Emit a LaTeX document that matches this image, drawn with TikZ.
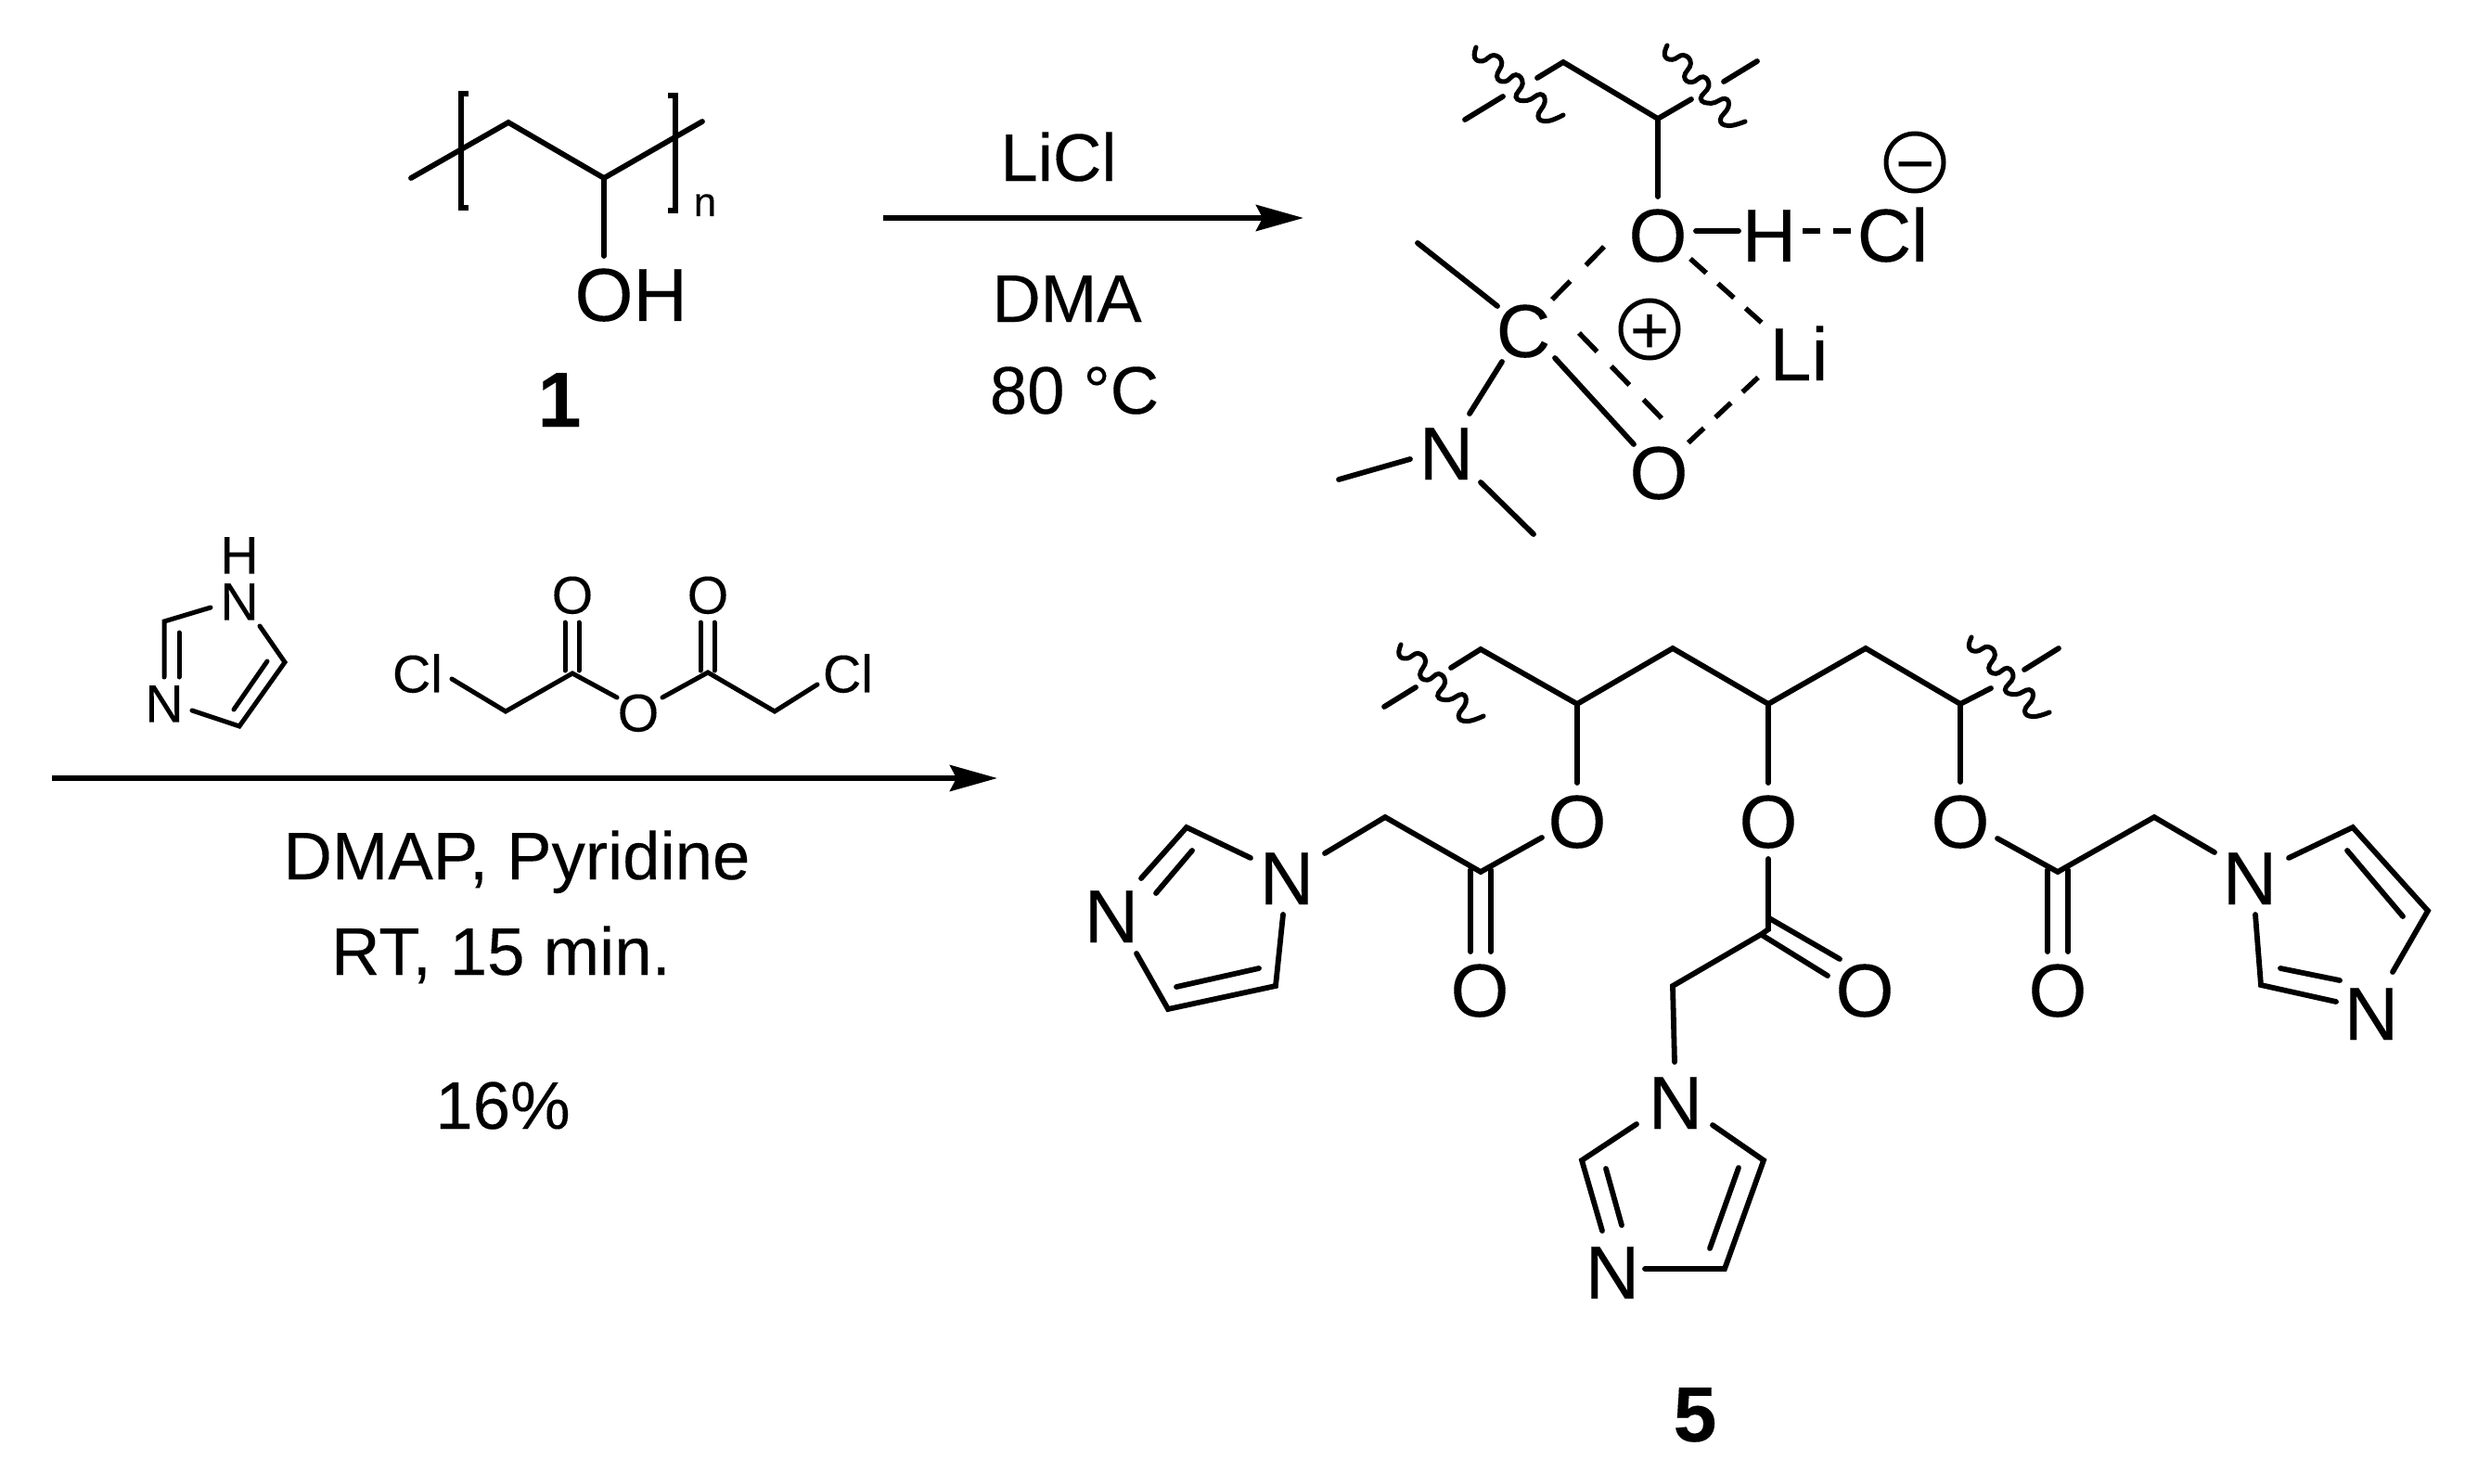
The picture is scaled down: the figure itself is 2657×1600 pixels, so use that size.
\documentclass[tikz,border=0pt]{standalone}
\usepackage{fontspec}
\setmainfont{Liberation Sans}[FakeBold=0.12]
\usetikzlibrary{arrows.meta}
\newcommand\atx[1]{\makebox[0pt]{\raisebox{-0.358em}[0pt][0pt]{#1}}}
\newcommand\atxl[1]{\makebox[0pt][l]{\hspace{-0.389em}\raisebox{-0.358em}[0pt][0pt]{#1}}}
\newcommand\wavyline[4]{%
  \begin{scope}[shift={(#1,#2)},
      x={({(#3-#1)*0.5pt},{-(#4-#2)*0.5pt})},
      y={({-(#4-#2)*0.5pt},{-(#3-#1)*0.5pt})}]
    \draw[wave] plot[smooth,tension=0.8] coordinates {(0,0) (.048,.081) (.124,.061) (.171,-.042) (.27,-.033) (.312,.093) (.397,.085) (.438,-.025) (.534,0) (.562,.134) (.661,.097) (.721,-.021) (.797,.012) (.826,.147) (.918,.134) (1,0)};
  \end{scope}}
\tikzset{
  bond/.style={line width=2.9pt,line cap=round,line join=miter,black},
  thinbond/.style={line width=2.5pt,line cap=round,line join=miter,black},
  dbond/.style={line width=2.7pt,line cap=butt,black},
  wave/.style={line width=2.5pt,line cap=round,black},
  brk/.style={line width=3pt,line cap=butt,line join=miter,black},
  rxn/.style={line width=3pt,line cap=butt,black,-{Stealth[length=25.5pt,width=14pt,inset=3.5pt]}},
  atom/.style={circle,inner sep=0pt,outer sep=0pt,minimum size=1pt,font=\fontsize{40.5}{40.5}\selectfont},
  smallatom/.style={circle,inner sep=0pt,outer sep=0pt,minimum size=1pt,font=\fontsize{28.6}{28.6}\selectfont},
  lab/.style={anchor=base,inner sep=0pt,outer sep=0pt,font=\fontsize{36.3}{36.3}\selectfont},
  cmpd/.style={anchor=base,inner sep=0pt,outer sep=0pt,font=\fontsize{42}{42}\selectfont\bfseries},
  charge/.style={circle,draw,line width=2.5pt,inner sep=0pt,minimum size=31pt,font=\fontsize{36}{36}\selectfont},
}
\begin{document}
\begin{tikzpicture}[x=0.5pt,y=-0.5pt]
\useasboundingbox (0,0) rectangle (2657,1600);
\fill[white] (0,0) rectangle (2657,1600);

%% ---------- polymer 1
\coordinate (pa) at (443,192);
\coordinate (pb) at (548,132);
\coordinate (pc) at (651,192);
\coordinate (pd) at (757,131);
\node[atom] (poh) at (651,317) {\atxl{OH}};
\draw[bond] (pa) -- (pb) -- (pc) -- (pd);
\draw[bond] (pc) -- ([shift={(0,-41)}]poh.center);
\draw[brk] (505,101) -| (497,224) -- (505,224);
\draw[brk] (720,103) -| (728,227) -- (720,227);
\node[anchor=base,inner sep=0pt,font=\fontsize{22}{22}\selectfont] (pn) at (760,233) {n};
\node[cmpd] (c1) at (603,460) {1};

%% ---------- reaction 1
\coordinate (a1s) at (952,235);
\coordinate (a1e) at (1405,235);
\draw[rxn] (a1s) -- (a1e);
\node[lab] (licl) at (1141,195) {LiCl};
\node[lab] (dma) at (1150,347) {DMA};
\node[lab] (temp) at (1158,446) {80 °C};

%% ---------- complex
\coordinate (zk) at (1685,67);
\coordinate (zch) at (1787,128);
\coordinate (zl) at (1657,84);
\coordinate (zr) at (1823,107);
\coordinate (zl1) at (1579,129);
\coordinate (zl2) at (1620,104);
\coordinate (zr1) at (1858,88);
\coordinate (zr2) at (1894,66);
\coordinate (zme) at (1528,262);
\coordinate (zm1) at (1443,517);
\coordinate (zm2) at (1653,576);
\node[atom] (zo) at (1787,253) {\atx{O}};
\node[atom] (zh) at (1907,253) {\atx{H}};
\node[atom] (zcl) at (2040,253) {\atx{Cl}};
\node[atom] (zli) at (1939,381) {\atx{Li}};
\node[atom] (zc) at (1642,356) {\atx{C}};
\node[atom] (zob) at (1788,509) {\atx{O}};
\node[atom] (zn) at (1559,488) {\atx{N}};
\node[charge] (zminus) at (2064,175) {\atx{−}};
\node[charge] (zplus) at (1778,355) {\atx{+}};
\draw[bond] (zl) -- (zk) -- (zch) -- (zr);
\draw[bond] (zl1) -- (zl2);
\draw[bond] (zr1) -- (zr2);
\wavyline{1591}{51}{1685}{124}
\wavyline{1797}{49}{1881}{131}
\draw[bond] (zch) -- ([shift={(0,-41)}]zo.center);
\draw[bond] ([shift={(41,-4)}]zo.center) -- ([shift={(-33,-4)}]zh.center);
\draw[dbond,dash pattern=on 9.5pt off 7pt] ([shift={(36,-4)}]zh.center) -- ([shift={(-45,-4)}]zcl.center);
\draw[dbond,dash pattern=on 14pt off 12pt] ([shift={(-58,13)}]zo.center) -- ([shift={(31,-33)}]zc.center);
\draw[dbond,dash pattern=on 11.5pt off 8.5pt] ([shift={(35,26)}]zo.center) -- ([shift={(-40,-33)}]zli.center);
\draw[dbond,dash pattern=on 11.5pt off 8.5pt] ([shift={(-44,26)}]zli.center) -- ([shift={(30,-30)}]zob.center);
\draw[bond] (zme) -- ([shift={(-28,-26)}]zc.center);
\draw[bond] ([shift={(-23,34)}]zc.center) -- ([shift={(25,-42)}]zn.center);
\draw[bond] ([shift={(34,30)}]zc.center) -- ([shift={(-27,-30)}]zob.center);
\draw[dbond,dash pattern=on 14pt off 11pt] ([shift={(60,3)}]zc.center) -- ([shift={(3,-58)}]zob.center);
\draw[bond] ([shift={(-39,7)}]zn.center) -- (zm1);
\draw[bond] ([shift={(37,32)}]zn.center) -- (zm2);

%% ---------- imidazole reagent
\node[smallatom] (ih) at (258,598) {\atx{H}};
\node[smallatom] (in1) at (258,648) {\atx{N}};
\node[smallatom] (in3) at (177,758) {\atx{N}};
\coordinate (ic2) at (177,670);
\coordinate (ic4) at (258,783);
\coordinate (ic5) at (307,714);
\coordinate (ii1) at (193,682);
\coordinate (ii2) at (193,730);
\coordinate (ij1) at (252,765);
\coordinate (ij2) at (288,713);
\draw[thinbond] ([shift={(-31,7)}]in1.center) -- (ic2) -- ([shift={(0,-28)}]in3.center);
\draw[thinbond] (ii1) -- (ii2);
\draw[thinbond] ([shift={(30,8)}]in3.center) -- (ic4) -- (ic5) -- ([shift={(22,27)}]in1.center);
\draw[thinbond] (ij1) -- (ij2);

%% ---------- anhydride reagent
\node[smallatom] (acl1) at (450,726) {\atx{Cl}};
\node[smallatom] (acl2) at (914,726) {\atx{Cl}};
\node[smallatom] (ao1) at (617,641) {\atx{O}};
\node[smallatom] (ao2) at (763,641) {\atx{O}};
\node[smallatom] (aom) at (688,768) {\atx{O}};
\coordinate (ach1) at (545,767);
\coordinate (ac1) at (617,726);
\coordinate (ac2) at (763,725);
\coordinate (ach2) at (835,767);
\draw[thinbond] ([shift={(37,6)}]acl1.center) -- (ach1) -- (ac1) -- ([shift={(-23,-16)}]aom.center);
\draw[thinbond] ([shift={(26,-16)}]aom.center) -- (ac2) -- (ach2) -- ([shift={(-33,12)}]acl2.center);
\draw[thinbond] ([shift={(-8,30)}]ao1.center) -- ([shift={(-8,82)}]ao1.center);
\draw[thinbond] ([shift={(7,30)}]ao1.center) -- ([shift={(7,82)}]ao1.center);
\draw[thinbond] ([shift={(-8,30)}]ao2.center) -- ([shift={(-8,82)}]ao2.center);
\draw[thinbond] ([shift={(7,30)}]ao2.center) -- ([shift={(7,82)}]ao2.center);

%% ---------- reaction 2
\coordinate (a2s) at (56,839);
\coordinate (a2e) at (1075,839);
\draw[rxn] (a2s) -- (a2e);
\node[lab] (dmap) at (557,948) {DMAP, Pyridine};
\node[lab] (rt) at (540,1051) {RT, 15 min.};
\node[lab] (yield) at (542,1217) {16\%};

%% ---------- product 5: backbone
\coordinate (k1) at (1596,700);
\coordinate (h1) at (1700,759);
\coordinate (k2) at (1803,699);
\coordinate (h2) at (1906,759);
\coordinate (k3) at (2011,699);
\coordinate (h3) at (2113,759);
\coordinate (st1) at (1564,720);
\coordinate (st3) at (2146,742);
\coordinate (o1a) at (1492,762);
\coordinate (o1b) at (1526,741);
\coordinate (o3a) at (2182,722);
\coordinate (o3b) at (2219,699);
\draw[bond] (st1) -- (k1) -- (h1) -- (k2) -- (h2) -- (k3) -- (h3) -- (st3);
\draw[bond] (o1a) -- (o1b);
\draw[bond] (o3a) -- (o3b);
\wavyline{1510}{695}{1599}{772}
\wavyline{2125}{687}{2209}{768}

%% ---------- product: left arm
\node[atom] (lo) at (1700,885) {\atx{O}};
\node[atom] (lod) at (1595,1067) {\atx{O}};
\node[atom] (ln1) at (1387,946) {\atx{N}};
\node[atom] (ln3) at (1198,987) {\atx{N}};
\coordinate (lc) at (1596,940);
\coordinate (lm) at (1493,881);
\coordinate (lr2) at (1279,892);
\coordinate (lr4) at (1259,1088);
\coordinate (lr5) at (1375,1063);
\coordinate (li1) at (1285,917);
\coordinate (li2) at (1246,963);
\coordinate (li3) at (1268,1064);
\coordinate (li4) at (1357,1044);
\draw[bond] (h1) -- ([shift={(0,-41)}]lo.center);
\draw[bond] ([shift={(-38,18)}]lo.center) -- (lc) -- (lm) -- ([shift={(41,-26)}]ln1.center);
\draw[bond] ([shift={(-10,-129)}]lod.center) -- ([shift={(-10,-41)}]lod.center);
\draw[bond] ([shift={(12,-129)}]lod.center) -- ([shift={(12,-41)}]lod.center);
\draw[bond] ([shift={(-39,-21)}]ln1.center) -- (lr2) -- ([shift={(32,-40)}]ln3.center);
\draw[bond] (li1) -- (li2);
\draw[bond] ([shift={(27,41)}]ln3.center) -- (lr4) -- (lr5) -- ([shift={(-4,40)}]ln1.center);
\draw[bond] (li3) -- (li4);

%% ---------- product: middle arm
\node[atom] (mo) at (1906,885) {\atx{O}};
\node[atom] (mod) at (2010,1067) {\atx{O}};
\node[atom] (mn1) at (1806,1188) {\atx{N}};
\node[atom] (mn3) at (1738,1371) {\atx{N}};
\coordinate (mc) at (1899,1007);
\coordinate (mm) at (1803,1063);
\coordinate (mr2) at (1705,1251);
\coordinate (mr4) at (1859,1368);
\coordinate (mr5) at (1901,1251);
\coordinate (mi1) at (1731,1260);
\coordinate (mi2) at (1748,1321);
\coordinate (mi3) at (1843,1346);
\coordinate (mi4) at (1874,1259);
\coordinate (md1) at (1907,990);
\coordinate (md2) at (1983,1034);
\coordinate (md3) at (1899,1008);
\coordinate (md4) at (1970,1052);
\draw[bond] (h2) -- ([shift={(0,-41)}]mo.center);
\draw[bond] ([shift={(0,41)}]mo.center) -- (1906,1002) -- (mc) -- (mm) -- ([shift={(-1,-43)}]mn1.center);
\draw[bond] (md1) -- (md2);
\draw[bond] (md3) -- (md4);
\draw[bond] ([shift={(-42,24)}]mn1.center) -- (mr2) -- ([shift={(-11,-44)}]mn3.center);
\draw[bond] (mi1) -- (mi2);
\draw[bond] ([shift={(35,-3)}]mn3.center) -- (mr4) -- (mr5) -- ([shift={(40,25)}]mn1.center);
\draw[bond] (mi3) -- (mi4);

%% ---------- product: right arm
\node[atom] (ro) at (2113,885) {\atx{O}};
\node[atom] (rod) at (2218,1067) {\atx{O}};
\node[atom] (rn1) at (2425,946) {\atx{N}};
\node[atom] (rn3) at (2556,1092) {\atx{N}};
\coordinate (rc) at (2218,940);
\coordinate (rm) at (2322,881);
\coordinate (rr2) at (2536,892);
\coordinate (rr4) at (2617,982);
\coordinate (rr5) at (2437,1062);
\coordinate (ri1) at (2530,917);
\coordinate (ri2) at (2590,988);
\coordinate (ri3) at (2458,1044);
\coordinate (ri4) at (2522,1057);
\draw[bond] (h3) -- ([shift={(0,-42)}]ro.center);
\draw[bond] ([shift={(40,19)}]ro.center) -- (rc) -- (rm) -- ([shift={(-38,-27)}]rn1.center);
\draw[bond] ([shift={(-11,-129)}]rod.center) -- ([shift={(-11,-41)}]rod.center);
\draw[bond] ([shift={(11,-129)}]rod.center) -- ([shift={(11,-41)}]rod.center);
\draw[bond] ([shift={(42,-21)}]rn1.center) -- (rr2) -- (rr4) -- ([shift={(23,-44)}]rn3.center);
\draw[bond] (ri1) -- (ri2);
\draw[bond] ([shift={(6,40)}]rn1.center) -- (rr5) -- ([shift={(-38,-12)}]rn3.center);
\draw[bond] (ri3) -- (ri4);
\node[cmpd] (c5) at (1827,1554) {5};
\end{tikzpicture}
\end{document}
